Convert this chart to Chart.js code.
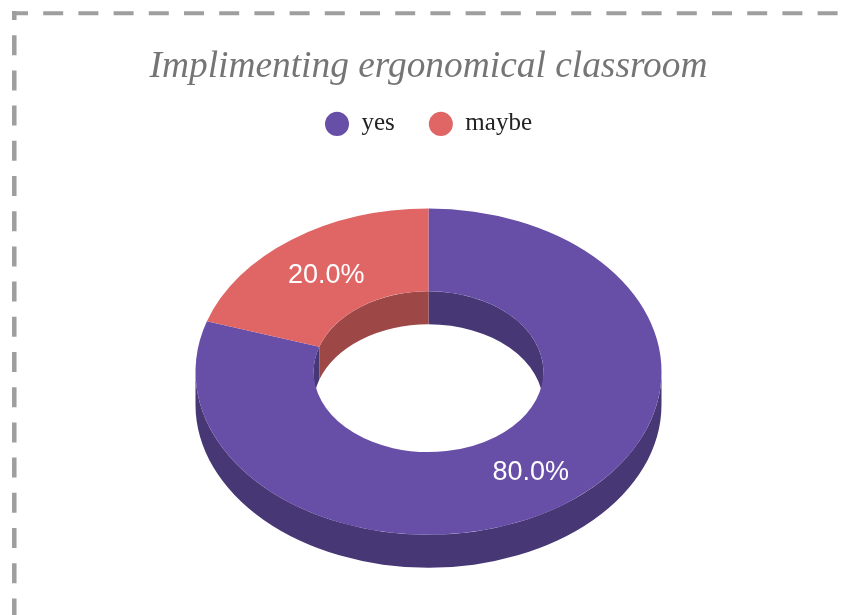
<!DOCTYPE html>
<html>
<head>
<meta charset="utf-8">
<title>Implimenting ergonomical classroom</title>
<script src="https://cdn.jsdelivr.net/npm/chart.js@4/dist/chart.umd.min.js"></script>
<style>
    html, body { margin: 0; padding: 0; background: #fff; }
    #wrap { position: relative; width: 841px; height: 615px; }
</style>
</head>
<body>
<div id="wrap"><canvas id="ringChart"></canvas></div>
<script>
const answers = ["yes", "maybe"];
const shares = [80, 20];
const faceColors = ["#674ea7", "#e06666"];
const sideColors = ["#483775", "#9d4747"];

const tilt = 0.7;   // vertical squash of the ring
const depth = 33;   // ring thickness in px
const TWO_PI = Math.PI * 2;

// parts of [a1, a2] that fall inside [lo, hi] (taken modulo a full turn)
function overlaps(a1, a2, lo, hi) {
    const out = [];
    for (let k = -2; k <= 2; k++) {
        const s = Math.max(a1, lo + k * TWO_PI);
        const e = Math.min(a2, hi + k * TWO_PI);
        if (e > s) out.push([s, e]);
    }
    return out;
}

function wall(ctx, x, y, r, s, e) {
    ctx.beginPath();
    ctx.ellipse(x, y, r, r * tilt, 0, s, e);
    ctx.ellipse(x, y + depth, r, r * tilt, 0, e, s, true);
    ctx.closePath();
    ctx.fill();
}

// dashed frame on the top and left edges
const frame = {
    id: "frame",
    beforeDraw(chart) {
        const ctx = chart.ctx;
        ctx.save();
        ctx.strokeStyle = "#9e9e9e";
        ctx.setLineDash([20, 15.2]);
        ctx.lineWidth = 4;
        ctx.lineDashOffset = 4;
        ctx.beginPath();
        ctx.moveTo(12, 13.3);
        ctx.lineTo(chart.width, 13.3);
        ctx.stroke();
        ctx.lineWidth = 4.5;
        ctx.lineDashOffset = 11;
        ctx.beginPath();
        ctx.moveTo(14.3, 11);
        ctx.lineTo(14.3, chart.height);
        ctx.stroke();
        ctx.restore();
    },
};

// sides of the ring first, then squash the canvas so the library's arcs become the top face
const ring3d = {
    id: "ring3d",
    beforeDatasetsDraw(chart) {
        const ctx = chart.ctx;
        const arcs = chart.getDatasetMeta(0).data;
        ctx.save();
        arcs.forEach((arc, i) => {
            const { x, y, startAngle, endAngle, innerRadius, outerRadius } = arc;
            ctx.fillStyle = sideColors[i];
            overlaps(startAngle, endAngle, 0, Math.PI).forEach(([s, e]) => wall(ctx, x, y, outerRadius, s, e));
            overlaps(startAngle, endAngle, Math.PI, TWO_PI).forEach(([s, e]) => wall(ctx, x, y, innerRadius, s, e));
        });
        ctx.restore();
        const { x, y } = arcs[0];
        ctx.save();
        ctx.translate(x, y);
        ctx.scale(1, tilt);
        ctx.translate(-x, -y);
    },
    afterDatasetsDraw(chart) {
        const ctx = chart.ctx;
        ctx.restore();
        const arcs = chart.getDatasetMeta(0).data;
        const total = shares.reduce((a, b) => a + b, 0);
        const size = 27;
        ctx.save();
        ctx.fillStyle = "#ffffff";
        ctx.font = size + "px 'Liberation Sans', Arial, sans-serif";
        ctx.textAlign = "center";
        ctx.textBaseline = "alphabetic";
        arcs.forEach((arc, i) => {
            const { x, y, startAngle, endAngle, innerRadius, outerRadius } = arc;
            const mid = (startAngle + endAngle) / 2;
            const r = (innerRadius + outerRadius) / 2;
            const text = ((shares[i] / total) * 100).toFixed(1) + "%";
            // centre the digits (cap height ~0.72em) on the slice midpoint
            ctx.fillText(text, x + Math.cos(mid) * r, y + Math.sin(mid) * r * tilt + size * 0.36);
        });
        ctx.restore();
    },
};

new Chart(document.getElementById("ringChart"), {
    type: "doughnut",
    data: {
        labels: answers,
        datasets: [
            {
                data: shares,
                backgroundColor: faceColors,
                borderWidth: 0,
                hoverOffset: 0,
                clip: false,
            },
        ],
    },
    options: {
        responsive: true,
        maintainAspectRatio: false,
        animation: false,
        radius: 233,
        cutout: "49.3%",
        layout: { padding: { left: 16, right: 0, top: 0, bottom: 18 } },
        plugins: {
            title: {
                display: true,
                text: "Implimenting ergonomical classroom",
                color: "#757575",
                font: { family: "'Liberation Serif', serif", size: 37.4, style: "italic", weight: "normal" },
                padding: { top: 45, bottom: -12.5 },
            },
            legend: {
                position: "top",
                labels: {
                    usePointStyle: true,
                    pointStyle: "circle",
                    pointStyleWidth: 24,
                    boxHeight: 17,
                    padding: 34,
                    color: "#222",
                    font: { family: "'Liberation Serif', serif", size: 25 },
                },
            },
            tooltip: { enabled: false },
        },
    },
    plugins: [frame, ring3d],
});
</script>
</body>
</html>
